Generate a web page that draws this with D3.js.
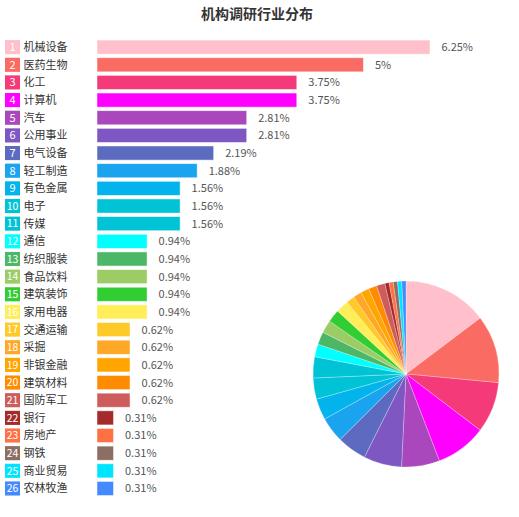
<!DOCTYPE html>
<html><head><meta charset="utf-8">
<script src="https://cdn.jsdelivr.net/npm/d3@7"></script>
<style>
html,body{margin:0;padding:0;background:#fff;}
svg{display:block;font-family:"Noto Sans CJK SC","Microsoft YaHei",sans-serif;}
</style></head>
<body><svg id="chart" width="519" height="517"></svg>
<script>
const title = "机构调研行业分布";
const categories = ["机械设备","医药生物","化工","计算机","汽车","公用事业","电气设备","轻工制造","有色金属","电子","传媒","通信","纺织服装","食品饮料","建筑装饰","家用电器","交通运输","采掘","非银金融","建筑材料","国防军工","银行","房地产","钢铁","商业贸易","农林牧渔"];
const values = [6.25,5,3.75,3.75,2.81,2.81,2.19,1.88,1.56,1.56,1.56,0.94,0.94,0.94,0.94,0.94,0.62,0.62,0.62,0.62,0.62,0.31,0.31,0.31,0.31,0.31];
const colors = ["#FFC0CB","#F96B63","#F43A78","#FF00FF","#AB47BC","#7E57C2","#5C6BC0","#1AA3EF","#03B4EC","#00C4D6","#00C4D6","#00FFFF","#4CB867","#9CCC65","#32CD32","#FFEE58","#FFCA28","#FFA726","#FFA500","#FF8C00","#CD5C5C","#A52A2A","#FF7043","#8D6E63","#00E5FF","#448AFF"];

const data = categories.map((c,i)=>({name:c, value:values[i], color:colors[i], idx:i+1}));
const svg = d3.select("#chart");

svg.append("text").attr("x",257).attr("y",19).attr("text-anchor","middle")
  .attr("font-size",14).attr("font-weight","bold").attr("fill","#333").text(title);

const y = d3.scaleBand().domain(d3.range(data.length)).range([38.3,497.3]).paddingInner(0.2).paddingOuter(0.1);
const x = d3.scaleLinear().domain([0,6.25]).range([97,430]);

const rows = svg.append("g").selectAll("g").data(data).join("g")
  .attr("transform",(d,i)=>`translate(0,${y(i)})`);
const bh = y.bandwidth();
rows.append("rect").attr("x",5).attr("y",0).attr("width",15).attr("height",bh).attr("fill",d=>d.color);
rows.append("text").attr("x",12.5).attr("y",bh/2).attr("dy","0.36em").attr("text-anchor","middle")
  .attr("font-size",d=>d.idx>=10?10.5:11).attr("fill","#fff").text(d=>d.idx);
rows.append("text").attr("x",23.5).attr("y",bh/2).attr("dy","0.36em")
  .attr("font-size",11).attr("fill","#333").text(d=>d.name);
rows.append("rect").attr("x",x(0)).attr("y",0).attr("width",d=>x(d.value)-x(0)).attr("height",bh)
  .attr("fill",d=>d.color).attr("stroke","rgba(255,255,255,0.6)").attr("stroke-width",0.8);
rows.append("text").attr("x",d=>x(d.value)+11.5).attr("y",bh/2).attr("dy","0.36em")
  .attr("font-size",11).attr("fill","#555").text(d=>d.value+"%");

const pie = d3.pie().value(d=>d.value).sort(null);
const arc = d3.arc().innerRadius(0).outerRadius(93);
svg.append("g").attr("transform","translate(406,374)")
  .selectAll("path").data(pie(data)).join("path")
  .attr("d",arc).attr("fill",d=>d.data.color).attr("stroke","rgba(255,255,255,0.5)").attr("stroke-width",0.5);
</script></body></html>
